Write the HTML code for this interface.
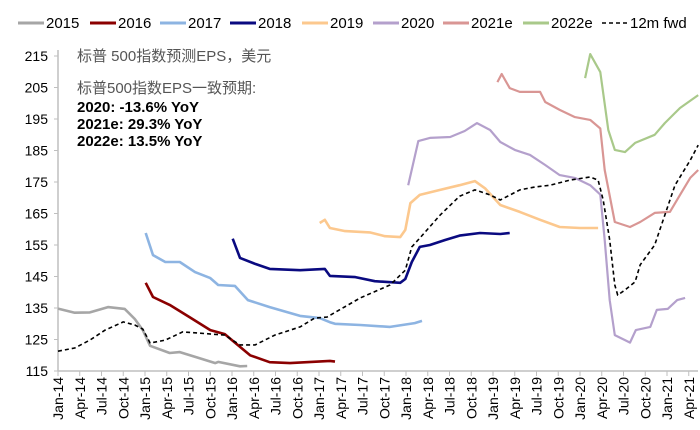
<!DOCTYPE html>
<html><head><meta charset="utf-8"><style>
body{margin:0;background:#fff}
svg{display:block;font-family:"Liberation Sans","Noto Sans CJK SC",sans-serif}
</style></head><body>
<svg id="chart" width="700" height="430">
<g id="legend"></g>
<g id="axes"></g>
<g id="series"></g>
<g>
<text x="77" y="61" font-size="15" fill="#555">标普 500指数预测EPS，美元</text>
<text x="77" y="93" font-size="15" fill="#555">标普500指数EPS一致预期:</text>
<text x="77" y="112" font-size="15" font-weight="bold" fill="#000">2020: -13.6% YoY</text>
<text x="77" y="129" font-size="15" font-weight="bold" fill="#000">2021e: 29.3% YoY</text>
<text x="77" y="146" font-size="15" font-weight="bold" fill="#000">2022e: 13.5% YoY</text>
</g>
</svg>
<script>
const yTicks=[115,125,135,145,155,165,175,185,195,205,215];
const xTickLabels=["Jan-14","Apr-14","Jul-14","Oct-14","Jan-15","Apr-15","Jul-15","Oct-15","Jan-16","Apr-16","Jul-16","Oct-16","Jan-17","Apr-17","Jul-17","Oct-17","Jan-18","Apr-18","Jul-18","Oct-18","Jan-19","Apr-19","Jul-19","Oct-19","Jan-20","Apr-20","Jul-20","Oct-20","Jan-21","Apr-21"];
const seriesNames=["2015","2016","2017","2018","2019","2020","2021e","2022e","12m fwd"];
// months since Jan-14
const m2015=[0,2.3,4.4,6.9,9.2,10.6,11.7,12.7,15.4,16.8,19.6,21.7,22.1,25.1,26.1];
const v2015=[134.8,133.5,133.6,135.3,134.7,131.5,128,123,120.7,121,119,117.5,117.9,116.5,116.6];
const m2016=[12.1,13.1,15.4,18.2,21.0,23.0,24.4,26.5,29.2,32.0,37.5,38.2];
const v2016=[143,138.5,136,132,128,126.7,124,120,117.8,117.5,118.2,118];
const m2017=[12.1,13.1,14.8,16.8,18.9,21.0,22.1,24.4,26.2,29.2,33.4,36.1,37.5,38.2,41.7,45.8,49.2,50.2];
const v2017=[158.8,151.8,149.6,149.6,146.4,144.5,142.3,142,137.5,135.3,132.5,131.8,130.5,130,129.6,129,130.2,130.9];
const m2018=[24.1,25.1,27.2,29.2,33.4,36.8,37.5,41.0,43.7,47.2,47.9,48.8,49.9,51.3,53.4,55.4,58.2,61.0,62.3];
const v2018=[157,150.9,149,147.4,147,147.4,145.2,144.8,143.5,143,144.2,149.6,154.4,155,156.6,158,158.8,158.5,158.8];
const m2019=[36.1,36.8,37.5,39.6,43.0,45.1,47.2,47.9,48.6,49.9,52.7,55.4,57.5,58.9,61.0,63.7,66.5,69.2,72.0,74.5];
const v2019=[162,163,160.4,159.4,159,157.8,157.5,159.8,168.3,170.9,172.5,174,175.3,173,167.7,165.5,163,160.7,160.4,160.4];
const m2020=[48.3,49.7,51.3,54.1,56.1,57.8,59.6,61.0,63.0,65.1,67.2,69.2,71.3,73.4,74.8,75.4,76.1,76.8,78.2,78.9,79.7,81.7,82.6,84.1,85.4,86.5];
const v2020=[174,188,189,189.3,191.2,193.7,191.5,187.7,185.2,183.6,180.4,177.2,176.3,174,171,156.6,137.5,126.4,124.8,124,128,129,134.4,134.7,137.5,138.2];
const m2021e=[60.6,61.2,62.3,63.7,66.5,67.2,69.2,71.3,73.4,74.8,75.4,76.8,78.9,80.3,82.3,84.4,85.8,87.2,88.3];
const v2021e=[206.7,209.3,204.8,203.6,203.6,200.4,197.9,195.6,194.7,192,178.8,162.3,160.7,162.3,165.2,165.5,170.9,176.3,178.8];
const m2022e=[72.7,73.4,74.8,75.9,76.8,78.2,79.6,82.3,83.7,85.8,88.3];
const v2022e=[208,215.6,209.9,191.5,185.2,184.5,187.4,190,193.7,198.5,202.6];
const mFwd=[0,2.3,4.4,6.5,9.0,10.6,11.7,12.7,14.8,17.2,19.6,23.0,25.1,27.2,29.9,33.4,35.4,37.1,41.7,45.8,47.9,48.8,49.9,52.7,55.4,57.5,58.2,59.6,61.0,63.7,65.8,67.9,70.6,73.4,74.5,75.2,76.1,76.8,77.2,78.2,79.6,80.3,82.3,83.0,85.1,87.2,88.3];
const vFwd=[121.3,122.3,124.8,128,130.6,129.6,128.3,123.9,124.8,127.4,127,126.4,123.3,123.3,126.4,129,131.8,132.1,138.2,142.3,147,154.4,157.2,164.5,170.5,172.5,172,170.9,169.3,172.5,173.4,174,175.6,176.6,175.6,169.3,156.6,142.3,139.1,140.7,143.3,148.7,155,159.8,174,181.9,186.7];
const colors=["#a6a6a6","#8b0000","#8db4e2","#0a0a80","#fcc88e","#b4a0cc","#d99694","#a9c98a","#000"];
const allM=[m2015,m2016,m2017,m2018,m2019,m2020,m2021e,m2022e,mFwd];
const allV=[v2015,v2016,v2017,v2018,v2019,v2020,v2021e,v2022e,vFwd];
const NS="http://www.w3.org/2000/svg";
const X0=58,XS=7.25,Y0=371,YS=3.15;
function xs(m){return X0+m*XS;}
function ys(v){return Y0-(v-115)*YS;}
function mk(t,a,p){const e=document.createElementNS(NS,t);for(const k in a)e.setAttribute(k,a[k]);p.appendChild(e);return e;}
const axes=document.getElementById('axes');
let l=mk('line',{x1:X0,y1:50,x2:X0,y2:Y0,stroke:'#bfbfbf','stroke-width':1.5},axes);


l=mk('line',{x1:X0,y1:Y0,x2:698,y2:Y0,stroke:'#bfbfbf','stroke-width':1.5},axes);


yTicks.forEach(v=>{
 mk('line',{x1:X0-4,y1:ys(v),x2:X0,y2:ys(v),stroke:'#bfbfbf'},axes);
 const t=mk('text',{x:X0-10,y:ys(v)+5,'text-anchor':'end','font-size':14,fill:'#000'},axes);
 
 
 t.textContent=v;
});
xTickLabels.forEach((s,i)=>{
 const x=xs(i*3);
 mk('line',{x1:x,y1:Y0,x2:x,y2:Y0+5,stroke:'#bfbfbf'},axes);
 const t=mk('text',{x:0,y:0,'text-anchor':'end','font-size':14,fill:'#000',transform:`translate(${x+5},${Y0+6}) rotate(-90)`},axes);
 
 
 t.textContent=s;
});
const sg=document.getElementById('series');
allM.forEach((ms,i)=>{
 const d=ms.map((m,j)=>(j?'L':'M')+xs(m).toFixed(1)+' '+ys(allV[i][j]).toFixed(1)).join(' ');
 const p=mk('path',{d:d,fill:'none',stroke:colors[i],'stroke-width':i==8?1.6:(i>=5?2.2:2.6),'stroke-linejoin':'round'},sg);
 if(i==8)p.setAttribute('stroke-dasharray','4 3');
 
 
});
const lg=document.getElementById('legend');
const lgX=[18,90,160,230,302,373,443,523,602];
seriesNames.forEach((n,i)=>{
 const ln=mk('line',{x1:lgX[i],y1:23,x2:lgX[i]+26,y2:23,stroke:colors[i],'stroke-width':i==8?1.6:3},lg);
 if(i==8)ln.setAttribute('stroke-dasharray','4 3');
 
 
 const t=mk('text',{x:lgX[i]+28,y:28,'font-size':15,fill:'#000'},lg);
 
 
 t.textContent=n;
});
</script>
</body></html>
